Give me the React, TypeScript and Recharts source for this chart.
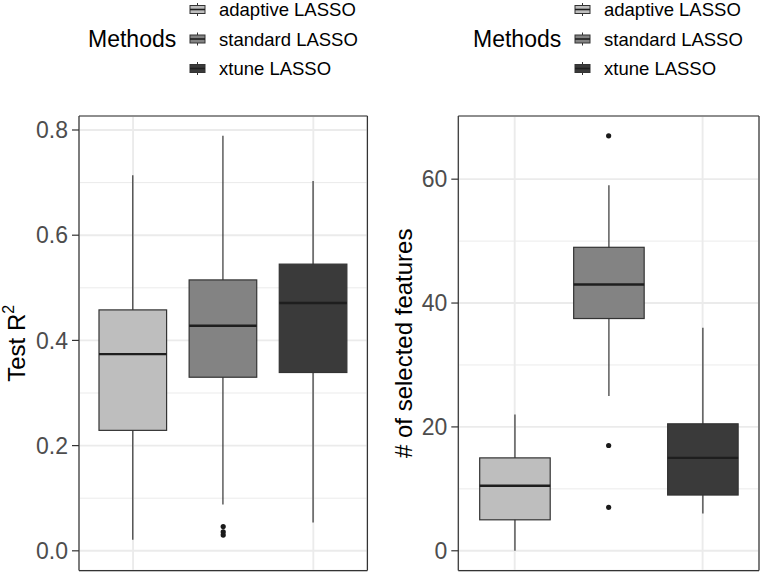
import React from 'react';
import { ComposedChart, Bar, XAxis, YAxis, CartesianGrid, ReferenceDot } from 'recharts';

// ---------- data ----------
const methods = ['adaptive LASSO', 'standard LASSO', 'xtune LASSO'];
const methodFills = ['#BEBEBE', '#838383', '#3A3A3A'];

// Test R^2
const r2Min = [0.021, 0.088, 0.054];
const r2Q1 = [0.229, 0.33, 0.339];
const r2Median = [0.374, 0.428, 0.471];
const r2Q3 = [0.458, 0.515, 0.545];
const r2Max = [0.714, 0.789, 0.703];
const r2OutlierMethod = ['standard LASSO', 'standard LASSO', 'standard LASSO'];
const r2OutlierValue = [0.046, 0.036, 0.03];
const r2Ticks = [0, 0.2, 0.4, 0.6, 0.8];
const r2MinorTicks = [0.1, 0.3, 0.5, 0.7];
const r2Domain = [-0.0376, 0.8266];

// # of selected features
const featMin = [0, 25, 6];
const featQ1 = [5, 37.5, 9];
const featMedian = [10.5, 43, 15];
const featQ3 = [15, 49, 20.5];
const featMax = [22, 59, 36];
const featOutlierMethod = ['standard LASSO', 'standard LASSO', 'standard LASSO'];
const featOutlierValue = [67, 17, 7];
const featTicks = [0, 20, 40, 60];
const featMinorTicks = [10, 30, 50];
const featDomain = [-3.2, 70.2];

const FONT = '"Liberation Sans", Arial, Helvetica, sans-serif';

function buildRows(mn: number[], q1: number[], med: number[], q3: number[], mx: number[]) {
  return methods.map((m, i) => ({
    method: m,
    range: [mn[i], mx[i]],
    q1: q1[i],
    median: med[i],
    q3: q3[i],
    fill: methodFills[i],
  }));
}

const r2Rows = buildRows(r2Min, r2Q1, r2Median, r2Q3, r2Max);
const featRows = buildRows(featMin, featQ1, featMedian, featQ3, featMax);

const BoxShape = (props: any) => {
  const { x, y, width, height, payload } = props;
  const top = Math.min(y, y + height);
  const bottom = Math.max(y, y + height);
  const [lo, hi] = payload.range;
  const py = (v: number) => top + ((hi - v) / (hi - lo)) * (bottom - top);
  const cx = x + width / 2;
  return (
    <g>
      <line x1={cx} x2={cx} y1={top} y2={bottom} stroke="#333333" strokeWidth={1.2} />
      <rect
        x={x}
        y={py(payload.q3)}
        width={width}
        height={py(payload.q1) - py(payload.q3)}
        fill={payload.fill}
        stroke="#333333"
        strokeWidth={1.2}
      />
      <line
        x1={x}
        x2={x + width}
        y1={py(payload.median)}
        y2={py(payload.median)}
        stroke="#1E1E1E"
        strokeWidth={2.4}
      />
    </g>
  );
};

type PanelProps = {
  rows: any[];
  ticks: number[];
  minorTicks: number[];
  domain: number[];
  outlierMethod: string[];
  outlierValue: number[];
  marginRight: number;
  yAxisWidth: number;
  padding: number;
  barSize: number;
  title: React.ReactNode;
  titleX: number;
  tickFormatter?: (v: number) => string;
};

const Panel = (p: PanelProps) => (
  <ComposedChart
    width={380}
    height={572}
    data={p.rows}
    margin={{ top: 116, right: p.marginRight, bottom: 1.4, left: 0 }}
  >
    <CartesianGrid stroke="#EBEBEB" strokeWidth={1} vertical={false} horizontalValues={p.minorTicks} />
    <CartesianGrid stroke="#EBEBEB" strokeWidth={1.9} />
    <CartesianGrid
      stroke="#333333"
      strokeWidth={1.2}
      horizontalCoordinatesGenerator={({ offset }: any) => [offset.top, offset.top + offset.height]}
      verticalCoordinatesGenerator={({ offset }: any) => [offset.left, offset.left + offset.width]}
    />
    <XAxis dataKey="method" type="category" hide padding={{ left: p.padding, right: p.padding }} />
    <YAxis
      type="number"
      domain={p.domain}
      allowDataOverflow
      ticks={p.ticks}
      width={p.yAxisWidth}
      axisLine={false}
      tickLine={{ stroke: '#333333', strokeWidth: 1.2 }}
      tickSize={7}
      tickMargin={4}
      tickFormatter={p.tickFormatter}
      tick={{ fill: '#4D4D4D', fontSize: 23, fontFamily: FONT }}
      label={{
        content: ({ viewBox }: any) => (
          <text
            transform={`translate(${p.titleX}, ${viewBox.y + viewBox.height / 2}) rotate(-90)`}
            textAnchor="middle"
            dominantBaseline="central"
            fontSize={24}
            fontFamily={FONT}
            fill="#000000"
          >
            {p.title}
          </text>
        ),
      }}
    />
    <Bar dataKey="range" barSize={p.barSize} shape={BoxShape} isAnimationActive={false} />
    {p.outlierValue.map((v, i) => (
      <ReferenceDot
        key={i}
        x={p.outlierMethod[i]}
        y={v}
        r={2.6}
        fill="#1A1A1A"
        stroke="none"
        ifOverflow="visible"
      />
    ))}
  </ComposedChart>
);

const LegendBlock = ({ left }: { left: number }) => {
  const rowY = [9.5, 39, 68.5];
  return (
    <g transform={`translate(${left}, 0)`}>
      <text x={0} y={rowY[1]} dy="0.355em" fontSize={23} fontFamily={FONT} fill="#000">
        Methods
      </text>
      {methods.map((m, i) => (
        <g key={m}>
          <line x1={109.5} x2={109.5} y1={rowY[i] - 6.5} y2={rowY[i] + 6.5} stroke="#333" strokeWidth={1} />
          <rect x={102} y={rowY[i] - 4} width={15} height={8} fill={methodFills[i]} stroke="#333" strokeWidth={1} />
          <line x1={102} x2={117} y1={rowY[i]} y2={rowY[i]} stroke="#1E1E1E" strokeWidth={1.6} />
          <text x={131} y={rowY[i]} dy="0.355em" fontSize={18.5} fontFamily={FONT} fill="#000">
            {m}
          </text>
        </g>
      ))}
    </g>
  );
};

export default function App() {
  return (
    <div style={{ position: 'absolute', left: 0, top: 0, width: 760, height: 572, background: '#fff' }}>
      <div style={{ position: 'absolute', left: 0, top: 0 }}>
        <Panel
          rows={r2Rows}
          ticks={r2Ticks}
          minorTicks={r2MinorTicks}
          domain={r2Domain}
          outlierMethod={r2OutlierMethod}
          outlierValue={r2OutlierValue}
          marginRight={12.6}
          yAxisWidth={79}
          padding={9}
          barSize={67.6}
          titleX={16.6}
          tickFormatter={(v: number) => v.toFixed(1)}
          title={
            <>
              Test R
              <tspan dy={-9} fontSize={16}>
                2
              </tspan>
            </>
          }
        />
      </div>
      <div style={{ position: 'absolute', left: 380, top: 0 }}>
        <Panel
          rows={featRows}
          ticks={featTicks}
          minorTicks={featMinorTicks}
          domain={featDomain}
          outlierMethod={featOutlierMethod}
          outlierValue={featOutlierValue}
          marginRight={1}
          yAxisWidth={78.3}
          padding={9.4}
          barSize={70.5}
          titleX={23}
          title="# of selected features"
        />
      </div>
      <svg
        width={760}
        height={90}
        style={{ position: 'absolute', left: 0, top: 0, pointerEvents: 'none' }}
      >
        <LegendBlock left={88} />
        <LegendBlock left={473} />
      </svg>
    </div>
  );
}
